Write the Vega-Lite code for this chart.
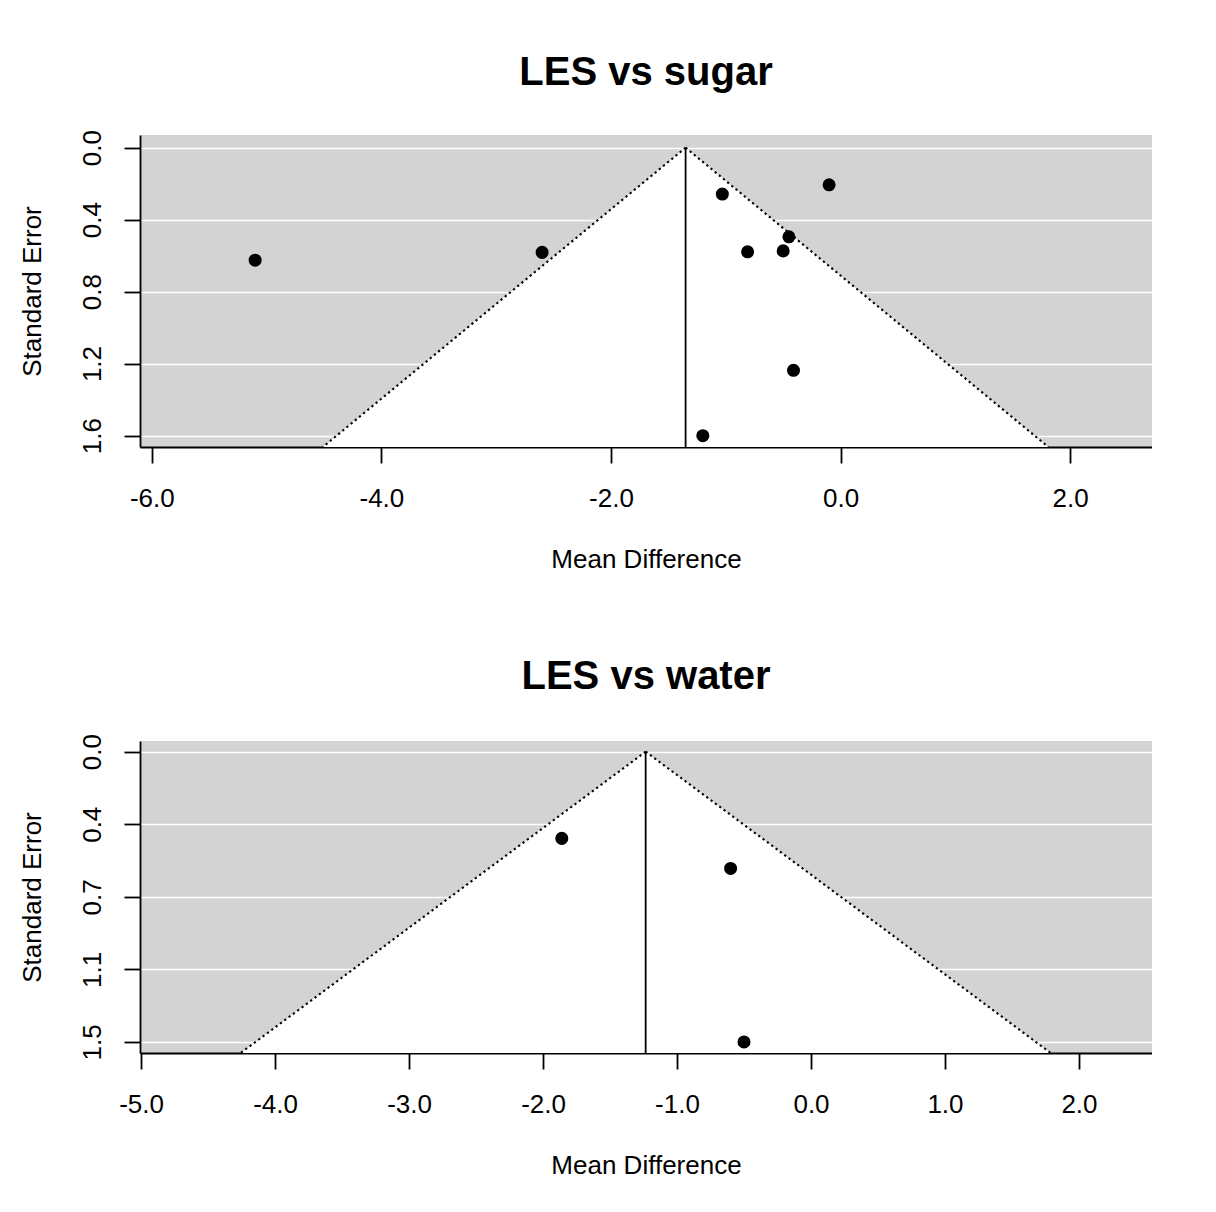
{
  "$schema": "https://vega.github.io/schema/vega-lite/v6.json",
  "background": "white",
  "padding": {"left": 19, "top": 52, "right": 0, "bottom": 0},
  "autosize": {"type": "pad"},
  "spacing": 84,
  "config": {
    "font": "Liberation Sans",
    "view": {"fill": "#d3d3d3", "stroke": null},
    "axis": {
      "domainColor": "black", "tickColor": "black", "labelColor": "black", "titleColor": "black",
      "labelFont": "Liberation Sans", "titleFont": "Liberation Sans",
      "labelFontSize": 26, "titleFontSize": 26, "titleFontWeight": "normal",
      "tickSize": 16, "domainWidth": 1.8, "tickWidth": 1.8,
      "gridColor": "white", "gridWidth": 1.3, "gridOpacity": 1,
      "labelOverlap": false, "labelFlush": false,
      "labelExpr": "datum.value < -0.0001 ? '-' + format(-datum.value, '.1f') : format(datum.value, '.1f')"
    },
    "title": {"fontSize": 40, "font": "Liberation Sans", "fontWeight": "bold", "color": "black", "anchor": "middle", "frame": "group", "baseline": "alphabetic", "offset": 37}
  },
  "datasets": {
    "sugar_funnel": [{"se": 0, "md": -1.35, "md2": -1.35}, {"se": 1.612, "md": -4.51, "md2": 1.81}],
    "sugar_dots": [{"md": -1.35, "se": 0, "md2": -4.51, "se2": 1.612}, {"md": -1.35, "se": 0, "md2": 1.81, "se2": 1.612}],
    "sugar_ref": [{"md": -1.35, "se": 0, "md2": -1.35, "se2": 1.612}],
    "sugar_pts": [
      {"md": -5.10, "se": 0.606}, {"md": -2.60, "se": 0.564}, {"md": -1.03, "se": 0.250},
      {"md": -0.10, "se": 0.200}, {"md": -0.45, "se": 0.480}, {"md": -0.81, "se": 0.561},
      {"md": -0.50, "se": 0.556}, {"md": -0.41, "se": 1.199}, {"md": -1.20, "se": 1.551}
    ],
    "water_funnel": [{"se": 0, "md": -1.234, "md2": -1.234}, {"se": 1.5425, "md": -4.257, "md2": 1.789}],
    "water_dots": [{"md": -1.234, "se": 0, "md2": -4.257, "se2": 1.5425}, {"md": -1.234, "se": 0, "md2": 1.789, "se2": 1.5425}],
    "water_ref": [{"md": -1.234, "se": 0, "md2": -1.234, "se2": 1.5425}],
    "water_pts": [{"md": -1.86, "se": 0.444}, {"md": -0.60, "se": 0.598}, {"md": -0.50, "se": 1.486}]
  },
  "vconcat": [
    {
      "title": {"text": "LES vs sugar"},
      "width": 1012, "height": 312,
      "layer": [
        {
          "data": {"name": "sugar_funnel"},
          "mark": {"type": "area", "orient": "horizontal", "color": "white", "clip": true},
          "encoding": {
            "y": {"field": "se", "type": "quantitative",
              "scale": {"domain": [-0.068, 1.612], "reverse": true, "nice": false, "zero": false},
              "axis": {"title": "Standard Error", "values": [0, 0.3875, 0.775, 1.1625, 1.551],
                "labelAngle": -90, "labelAlign": "center", "labelBaseline": "alphabetic", "labelPadding": 24,
                "titlePadding": 34, "grid": true}},
            "x": {"field": "md", "type": "quantitative",
              "scale": {"domain": [-6.103, 2.713], "nice": false, "zero": false},
              "axis": {"title": "Mean Difference", "values": [-6, -4, -2, 0, 2],
                "labelPadding": 22, "titlePadding": 35, "grid": false}},
            "x2": {"field": "md2"}
          }
        },
        {
          "data": {"name": "sugar_dots"},
          "mark": {"type": "rule", "color": "black", "strokeDash": [2.2, 3.2], "strokeWidth": 2.1, "clip": true},
          "encoding": {
            "x": {"field": "md", "type": "quantitative", "scale": {"domain": [-6.103, 2.713], "nice": false, "zero": false}},
            "y": {"field": "se", "type": "quantitative", "scale": {"domain": [-0.068, 1.612], "reverse": true, "nice": false, "zero": false}},
            "x2": {"field": "md2"}, "y2": {"field": "se2"}
          }
        },
        {
          "data": {"name": "sugar_ref"},
          "mark": {"type": "rule", "color": "black", "strokeWidth": 1.8, "clip": true},
          "encoding": {
            "x": {"field": "md", "type": "quantitative", "scale": {"domain": [-6.103, 2.713], "nice": false, "zero": false}},
            "y": {"field": "se", "type": "quantitative", "scale": {"domain": [-0.068, 1.612], "reverse": true, "nice": false, "zero": false}},
            "x2": {"field": "md2"}, "y2": {"field": "se2"}
          }
        },
        {
          "data": {"name": "sugar_pts"},
          "mark": {"type": "circle", "color": "black", "opacity": 1, "size": 170},
          "encoding": {
            "x": {"field": "md", "type": "quantitative", "scale": {"domain": [-6.103, 2.713], "nice": false, "zero": false}},
            "y": {"field": "se", "type": "quantitative", "scale": {"domain": [-0.068, 1.612], "reverse": true, "nice": false, "zero": false}}
          }
        }
      ]
    },
    {
      "title": {"text": "LES vs water"},
      "width": 1012, "height": 312,
      "layer": [
        {
          "data": {"name": "water_funnel"},
          "mark": {"type": "area", "orient": "horizontal", "color": "white", "clip": true},
          "encoding": {
            "y": {"field": "se", "type": "quantitative",
              "scale": {"domain": [-0.0545, 1.5425], "reverse": true, "nice": false, "zero": false},
              "axis": {"title": "Standard Error", "values": [0, 0.3716, 0.743, 1.1145, 1.486],
                "labelAngle": -90, "labelAlign": "center", "labelBaseline": "alphabetic", "labelPadding": 24,
                "titlePadding": 34, "grid": true}},
            "x": {"field": "md", "type": "quantitative",
              "scale": {"domain": [-5.008, 2.545], "nice": false, "zero": false},
              "axis": {"title": "Mean Difference", "values": [-5, -4, -3, -2, -1, 0, 1, 2],
                "labelPadding": 22, "titlePadding": 35, "grid": false}},
            "x2": {"field": "md2"}
          }
        },
        {
          "data": {"name": "water_dots"},
          "mark": {"type": "rule", "color": "black", "strokeDash": [2.2, 3.2], "strokeWidth": 2.1, "clip": true},
          "encoding": {
            "x": {"field": "md", "type": "quantitative", "scale": {"domain": [-5.008, 2.545], "nice": false, "zero": false}},
            "y": {"field": "se", "type": "quantitative", "scale": {"domain": [-0.0545, 1.5425], "reverse": true, "nice": false, "zero": false}},
            "x2": {"field": "md2"}, "y2": {"field": "se2"}
          }
        },
        {
          "data": {"name": "water_ref"},
          "mark": {"type": "rule", "color": "black", "strokeWidth": 1.8, "clip": true},
          "encoding": {
            "x": {"field": "md", "type": "quantitative", "scale": {"domain": [-5.008, 2.545], "nice": false, "zero": false}},
            "y": {"field": "se", "type": "quantitative", "scale": {"domain": [-0.0545, 1.5425], "reverse": true, "nice": false, "zero": false}},
            "x2": {"field": "md2"}, "y2": {"field": "se2"}
          }
        },
        {
          "data": {"name": "water_pts"},
          "mark": {"type": "circle", "color": "black", "opacity": 1, "size": 170},
          "encoding": {
            "x": {"field": "md", "type": "quantitative", "scale": {"domain": [-5.008, 2.545], "nice": false, "zero": false}},
            "y": {"field": "se", "type": "quantitative", "scale": {"domain": [-0.0545, 1.5425], "reverse": true, "nice": false, "zero": false}}
          }
        }
      ]
    }
  ]
}
